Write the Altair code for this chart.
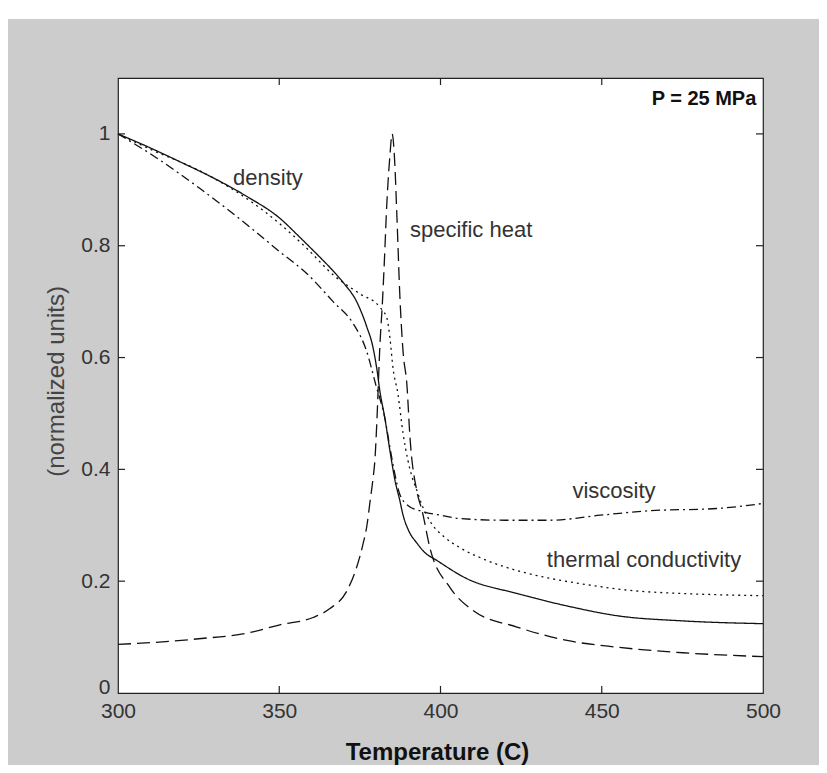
import altair as alt
import pandas as pd

# ---------------- data ----------------
series_names = ["density", "specific heat", "viscosity", "thermal conductivity"]

density_T = [300, 310, 320, 330, 340, 350, 356.4, 362, 366.7, 370, 374, 377.2, 379, 380.3,
             381.2, 382.8, 384.3, 385.9, 387.4, 388.4, 390, 392.7, 395, 398.9, 408, 423.7,
             439, 455, 475, 500]
density_v = [1.0, 0.975, 0.948, 0.92, 0.888, 0.85, 0.815, 0.783, 0.755, 0.733, 0.70, 0.654,
             0.62, 0.578, 0.54, 0.49, 0.434, 0.38, 0.344, 0.318, 0.292, 0.268, 0.252, 0.237,
             0.205, 0.178, 0.156, 0.138, 0.129, 0.124]

cp_T = [300, 310, 325, 340, 350.2, 360.5, 365.7, 371, 374, 376, 377.2, 378.1, 379, 379.7,
        380.3, 381.2, 382, 382.5, 383.4, 384.3, 385, 385.8, 386.5, 387.4, 388.4, 389.6,
        390.5, 392.7, 394.3, 396.7, 402.9, 410, 423.7, 439.2, 454.7, 475.2, 500]
cp_v = [0.087, 0.09, 0.097, 0.107, 0.122, 0.135, 0.151, 0.183, 0.225, 0.267, 0.30, 0.34,
        0.38, 0.42, 0.49, 0.62, 0.70, 0.76, 0.88, 0.96, 1.0, 0.95, 0.85, 0.71, 0.61, 0.55,
        0.46, 0.36, 0.326, 0.26, 0.189, 0.148, 0.118, 0.094, 0.082, 0.072, 0.065]

visc_T = [300, 312, 325, 341, 350, 358.6, 366.7, 373, 377, 380, 382.8, 384.3, 385.9, 387.4,
          390, 393.6, 400, 406, 420, 434, 449.5, 465, 485.7, 500]
visc_v = [1.0, 0.957, 0.904, 0.833, 0.79, 0.75, 0.70, 0.66, 0.613, 0.55, 0.49, 0.44, 0.39,
          0.355, 0.335, 0.326, 0.318, 0.312, 0.309, 0.309, 0.318, 0.326, 0.33, 0.339]

tc_T = [300, 311, 325, 341, 350, 358.6, 366.7, 375, 381.2, 383.4, 384.3, 385.3, 386.8, 388.4,
        389.9, 391.2, 392.7, 394, 397, 401, 406, 414, 423.7, 434, 444, 459.7, 475, 500]
tc_v = [1.0, 0.97, 0.935, 0.88, 0.84, 0.795, 0.748, 0.714, 0.69, 0.67, 0.636, 0.58, 0.535,
        0.464, 0.416, 0.386, 0.362, 0.34, 0.305, 0.28, 0.26, 0.238, 0.219, 0.205, 0.195,
        0.183, 0.178, 0.174]

x_ticks = [300, 350, 400, 450, 500]
y_ticks = [0, 0.2, 0.4, 0.6, 0.8, 1.0]
inner_x_ticks = [350, 400, 450]
inner_y_ticks = [0.2, 0.4, 0.6, 0.8, 1.0]

label_texts = ["density", "specific heat", "viscosity", "thermal conductivity"]
label_T = [346.5, 409.5, 453.8, 463.1]
label_v = [0.922, 0.829, 0.362, 0.237]

note_text = ["P = 25 MPa"]
note_T = [481.7]
note_v = [1.063]

# ---------------- build tables ----------------
rows = []
for name, ts, vs in [("density", density_T, density_v),
                     ("specific heat", cp_T, cp_v),
                     ("viscosity", visc_T, visc_v),
                     ("thermal conductivity", tc_T, tc_v)]:
    for i, (t, v) in enumerate(zip(ts, vs)):
        rows.append({"series": name, "T": t, "value": v, "idx": i})
df = pd.DataFrame(rows)

W, H = 645, 615
SANS = "Liberation Sans, Arial, sans-serif"

x_scale = alt.Scale(domain=[300, 500], nice=False, zero=False)
y_scale = alt.Scale(domain=[0, 1.1], nice=False, zero=False)

x_axis = alt.Axis(values=x_ticks, tickSize=0, domain=False, grid=False,
                  labelFont=SANS, labelFontSize=21, labelColor="#333",
                  labelPadding=7, labelFlush=False,
                  title="Temperature (C)", titleFont=SANS, titleFontSize=24,
                  titleFontWeight="bold", titleColor="#111",
                  titleX=319, titleY=59, titleAlign="center", titleBaseline="middle")
y_axis = alt.Axis(values=y_ticks, format="~g", tickSize=0, domain=False, grid=False,
                  labelFont=SANS, labelFontSize=21, labelColor="#333",
                  labelPadding=8, labelFlush=False,
                  labelBaseline=alt.condition("datum.value == 0",
                                              alt.value("alphabetic"), alt.value("middle")),
                  title="(normalized units)", titleFont=SANS, titleFontSize=24,
                  titleFontWeight="normal", titleColor="#444",
                  titleX=-62, titleY=303, titleAlign="center", titleBaseline="middle",
                  titleAngle=270)

lines = alt.Chart(df).mark_line(strokeWidth=1.3, color="#111", interpolate="monotone").encode(
    x=alt.X("T:Q", scale=x_scale, axis=x_axis),
    y=alt.Y("value:Q", scale=y_scale, axis=y_axis),
    strokeDash=alt.StrokeDash(
        "series:N",
        scale=alt.Scale(domain=series_names,
                        range=[[1, 0], [13, 6], [9, 4, 2, 4], [2, 4]]),
        legend=None),
    order="idx:Q",
)

# inward ticks (MATLAB style) on all four sides
xt = pd.DataFrame({"T": inner_x_ticks})
yt = pd.DataFrame({"value": inner_y_ticks})
tick_bottom = alt.Chart(xt).mark_rule(color="#222", strokeWidth=1.2).encode(
    x=alt.X("T:Q", scale=x_scale), y=alt.value(H), y2=alt.value(H - 7))
tick_top = alt.Chart(xt).mark_rule(color="#222", strokeWidth=1.2).encode(
    x=alt.X("T:Q", scale=x_scale), y=alt.value(0), y2=alt.value(7))
tick_left = alt.Chart(yt).mark_rule(color="#222", strokeWidth=1.2).encode(
    y=alt.Y("value:Q", scale=y_scale), x=alt.value(0), x2=alt.value(7))
tick_right = alt.Chart(yt).mark_rule(color="#222", strokeWidth=1.2).encode(
    y=alt.Y("value:Q", scale=y_scale), x=alt.value(W - 7), x2=alt.value(W))

labels_df = pd.DataFrame({"text": label_texts, "T": label_T, "value": label_v})
labels = alt.Chart(labels_df).mark_text(font=SANS, fontSize=22, color="#333",
                                        align="center", baseline="middle").encode(
    x=alt.X("T:Q", scale=x_scale), y=alt.Y("value:Q", scale=y_scale), text="text:N")

note_df = pd.DataFrame({"text": note_text, "T": note_T, "value": note_v})
note = alt.Chart(note_df).mark_text(font=SANS, fontSize=20, fontWeight="bold",
                                    color="#111", align="center", baseline="middle").encode(
    x=alt.X("T:Q", scale=x_scale), y=alt.Y("value:Q", scale=y_scale), text="text:N")

# white strip at the top of the slide frame
strip = alt.Chart(pd.DataFrame({"k": [0]})).mark_rect(color="white").encode(
    x=alt.value(-110), x2=alt.value(W + 56), y=alt.value(-70), y2=alt.value(-59))

chart = alt.layer(strip, lines, tick_bottom, tick_top, tick_left, tick_right, labels, note).properties(
    width=W, height=H,
    autosize=alt.AutoSizeParams(type="none"),
    padding={"left": 110, "top": 70, "right": 56, "bottom": 72},
    background="#cccccc",
).configure_view(stroke="#222", strokeWidth=1.2, fill="white")

chart.save("out.html", embed_options={"renderer": "svg", "actions": False})
